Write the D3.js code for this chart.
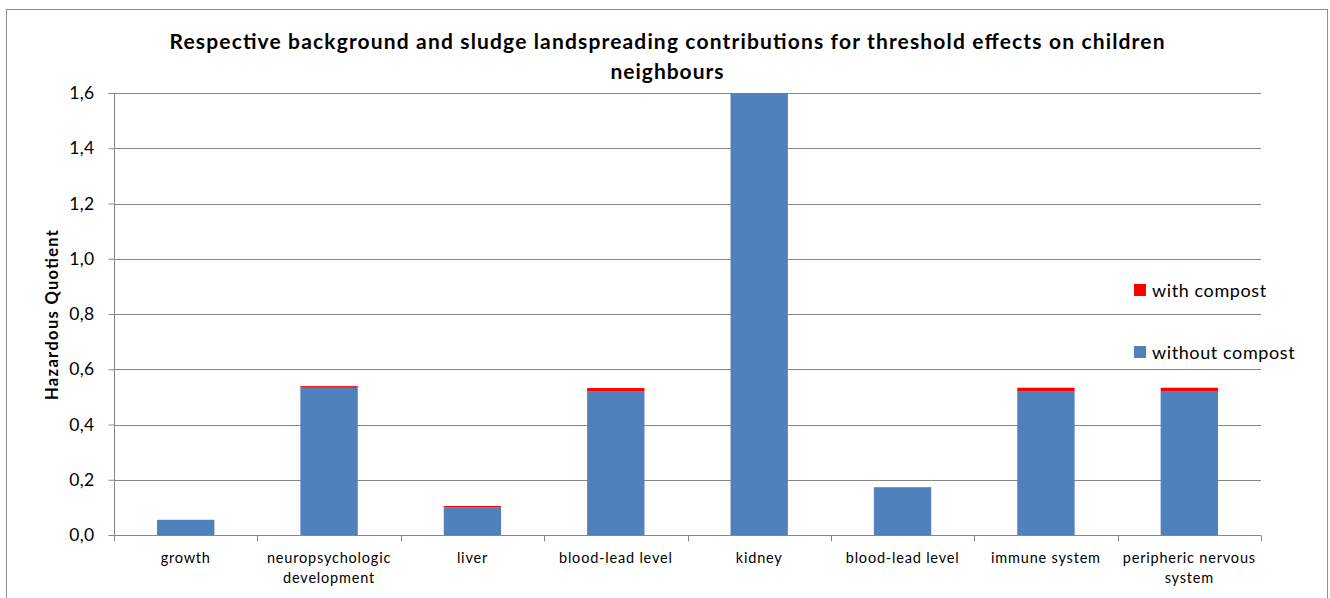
<!DOCTYPE html>
<html><head><meta charset="utf-8">
<script src="https://cdn.jsdelivr.net/npm/d3@7"></script>
<style>body{margin:0;background:#fff;} text{font-family:Lato,"Open Sans",sans-serif;fill:#000;}</style>
</head><body><svg id="c" width="1330" height="598"></svg>
<script>
const categories = ["growth","neuropsychologic development","liver","blood-lead level","kidney","blood-lead level","immune system","peripheric nervous system"];
const categoryLines = [["growth"],["neuropsychologic","development"],["liver"],["blood-lead level"],["kidney"],["blood-lead level"],["immune system"],["peripheric nervous","system"]];
const withoutCompost = [0.055, 0.533, 0.100, 0.521, 1.90, 0.173, 0.521, 0.521];
const withCompost = [0.000, 0.006, 0.005, 0.011, 0.000, 0.000, 0.012, 0.012];
const yTicks = [0,0.2,0.4,0.6,0.8,1.0,1.2,1.4,1.6];
const titleLines = ["Respective background and sludge landspreading contributions for threshold effects on children","neighbours"];
const yLabel = "Hazardous Quotient";
const seriesNames = ["with compost","without compost"];
const colors = {"with compost":"#FF0000","without compost":"#4F81BD"};

const svg = d3.select("#c");
const L=114,R=1261,T=93,B=535;
svg.append("rect").attr("x",6.5).attr("y",9.5).attr("width",1321).attr("height",600).attr("fill","none").attr("stroke","#8c8c8c").attr("stroke-width",1);

const x = d3.scaleBand().domain(d3.range(categories.length)).range([L,R]).paddingInner(0.6).paddingOuter(0.3);
const y = d3.scaleLinear().domain([0,1.6]).range([B,T]);

// grid
svg.append("g").selectAll("line").data(yTicks.filter(d=>d>0)).join("line")
  .attr("x1",L).attr("x2",R).attr("y1",d=>Math.round(y(d))+0.5).attr("y2",d=>Math.round(y(d))+0.5)
  .attr("stroke","#878787").attr("stroke-width",1);

svg.append("defs").append("clipPath").attr("id","clip").append("rect").attr("x",L).attr("y",T).attr("width",R-L).attr("height",B-T);

const stackData = categories.map((c,i)=>({i, without:withoutCompost[i], with:withCompost[i]}));
const stack = d3.stack().keys(["without","with"])(stackData);
const g = svg.append("g").attr("clip-path","url(#clip)");
stack.forEach(s=>{
  const col = s.key==="with"?colors["with compost"]:colors["without compost"];
  g.selectAll(null).data(s).join("rect")
    .attr("x",d=>x(d.data.i)).attr("width",x.bandwidth())
    .attr("y",d=>y(d[1])).attr("height",d=>Math.max(0,y(d[0])-y(d[1])))
    .attr("fill",col);
});

// y axis
const yAxis = d3.axisLeft(y).tickValues(yTicks).tickSize(6).tickPadding(14).tickFormat(d=>d3.format(".1f")(d).replace(".",","));
const ya = svg.append("g").attr("transform",`translate(${L+0.5},0)`).call(yAxis);
ya.select(".domain").attr("stroke","#878787").attr("d",`M-6,${T+0.5}H0V${B+0.5}`);
ya.selectAll(".tick line").attr("stroke","#878787");
ya.selectAll(".tick text").style("font-size","17.5px").style("font-family","Lato,sans-serif").style("letter-spacing","0.3px").attr("fill","#000");

// x axis
const xa = svg.append("g").attr("transform",`translate(0,${B+0.5})`);
xa.append("line").attr("x1",L).attr("x2",R).attr("stroke","#878787");
const bounds = d3.range(categories.length+1).map(i=>L+i*(R-L)/categories.length);
xa.selectAll(".tk").data(bounds).join("line").attr("x1",d=>Math.round(d)+0.5).attr("x2",d=>Math.round(d)+0.5).attr("y1",0).attr("y2",6).attr("stroke","#878787");
categoryLines.forEach((lines,i)=>{
  const t = xa.append("text").attr("text-anchor","middle").attr("x",x(i)+x.bandwidth()/2).attr("y",27).style("font-size","14.5px").style("letter-spacing","0.8px");
  lines.forEach((ln,k)=>t.append("tspan").attr("x",x(i)+x.bandwidth()/2).attr("dy",k?20:0).text(ln));
});

// title
const titleWidths = [995, 113];
titleLines.forEach((ln,k)=>{
  svg.append("text").attr("x",667).attr("y",49+k*30).attr("text-anchor","middle")
    .attr("textLength",titleWidths[k]).attr("lengthAdjust","spacing")
    .style("font-size","21px").style("font-weight","bold").text(ln);
});
// y label
svg.append("text").attr("transform","translate(58,315) rotate(-90)").attr("text-anchor","middle")
  .attr("textLength",170).attr("lengthAdjust","spacing")
  .style("font-size","16.5px").style("font-weight","bold").text(yLabel);

// legend
seriesNames.forEach((n,k)=>{
  const yy = 284+k*62;
  svg.append("rect").attr("x",1134).attr("y",yy).attr("width",12).attr("height",12).attr("fill",colors[n]);
  svg.append("text").attr("x",1152).attr("y",yy+13).style("font-size","18px").style("letter-spacing","0.6px").text(n);
});
</script></body></html>
